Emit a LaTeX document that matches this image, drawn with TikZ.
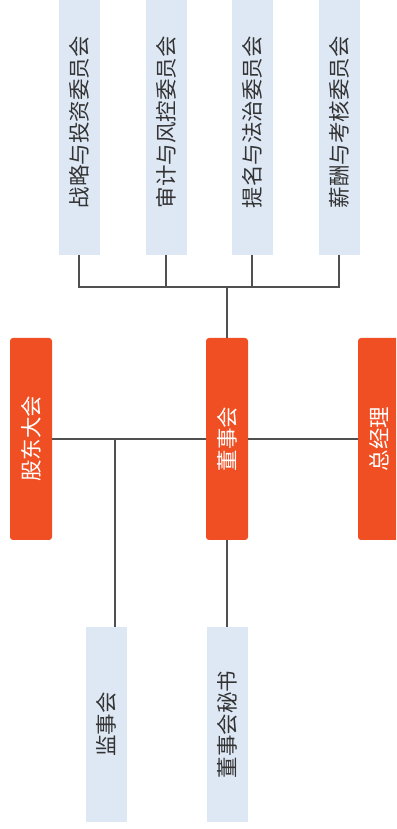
\documentclass[tikz,border=0pt]{standalone}
\usepackage{fontspec}
\newfontfamily\cjk{Noto Sans CJK SC}
\definecolor{orgred}{HTML}{F04E23}
\definecolor{lightblue}{HTML}{DEE8F5}
\definecolor{linegray}{HTML}{505050}
\definecolor{textgray}{HTML}{333333}
\begin{document}
\begin{tikzpicture}[x=1pt,y=1pt,
  bluebox/.style={fill=lightblue,draw=none,minimum height=41pt,inner sep=0pt,font=\cjk\fontsize{21.5}{21.5}\selectfont,text=textgray,rotate=90},
  redbox/.style={fill=orgred,draw=none,rounded corners=3pt,minimum height=42pt,inner sep=0pt,font=\cjk\fontsize{21.5}{21.5}\selectfont,text=white,rotate=90},
  conn/.style={draw=linegray,line width=1.1pt}]
\useasboundingbox (0,0) rectangle (396,829);
\clip (0,0) rectangle (396,829);
\fill[white] (0,0) rectangle (396,829);
% top committees
\node[bluebox,minimum width=265pt] (c1) at (79,706.5) {战略与投资委员会};
\node[bluebox,minimum width=265pt] (c2) at (166,706.5) {审计与风控委员会};
\node[bluebox,minimum width=265pt] (c3) at (252,706.5) {提名与法治委员会};
\node[bluebox,minimum width=265pt] (c4) at (339,706.5) {薪酬与考核委员会};
% middle row
\node[redbox,minimum width=202pt] (gd) at (31,390) {股东大会};
\node[redbox,minimum width=202pt] (dsh) at (227,390) {董事会};
\node[redbox,minimum width=202pt] (zjl) at (379,390) {总经理};
% bottom
\node[bluebox,minimum width=195pt] (jsh) at (106.5,104.5) {监事会};
\node[bluebox,minimum width=195pt] (ms) at (227,104.5) {董事会秘书};
% connectors
\coordinate (hb) at (227,542);
\draw[conn] (c1.west) |- (hb);
\draw[conn] (c4.west) |- (hb);
\draw[conn] (c2.west) -- (c2.west |- hb);
\draw[conn] (c3.west) -- (c3.west |- hb);
\draw[conn] (hb) -- (hb |- dsh.east);
\draw[conn] (gd) -- (dsh);
\draw[conn] (dsh) -- (zjl);
\coordinate (jn) at (115,390);
\draw[conn] (jn) -- (jn |- jsh.east);
\draw[conn] (dsh.west) -- (ms.east);
\end{tikzpicture}
\end{document}
